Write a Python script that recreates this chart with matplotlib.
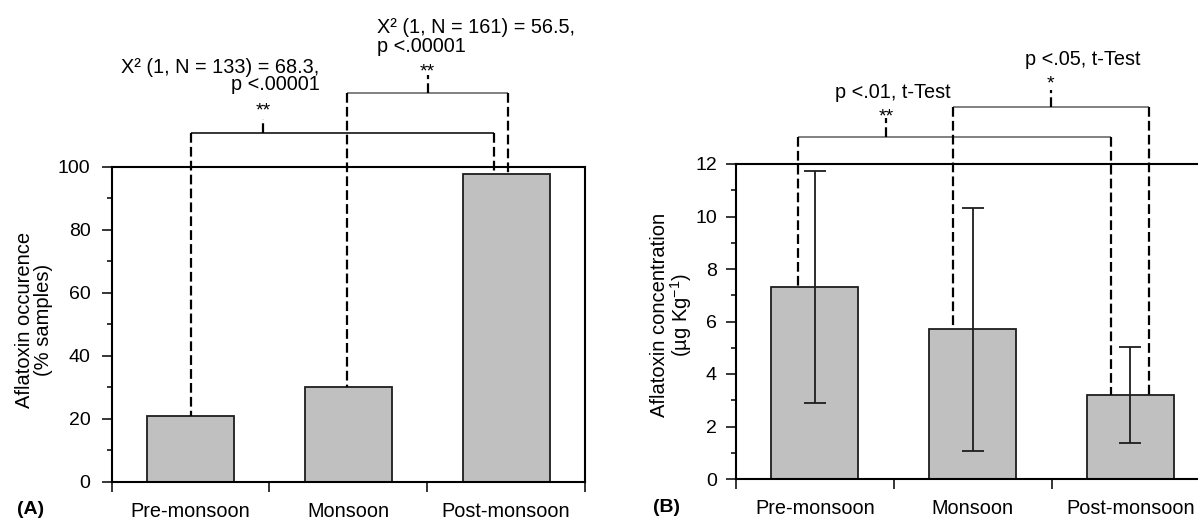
import matplotlib
matplotlib.use('Agg')
import matplotlib.pyplot as plt
import numpy as np

plt.rcParams['font.family'] = ['Liberation Sans', 'DejaVu Sans']
plt.rcParams['mathtext.default'] = 'regular'
plt.rcParams['lines.scale_dashes'] = False

# data
categories = ['Pre-monsoon', 'Monsoon', 'Post-monsoon']
occurrence = [20.9, 30.2, 97.7]          # % samples
concentration = [7.33, 5.70, 3.19]       # ug/kg
conc_sd = [4.42, 4.63, 1.82]

# significance annotations
occ_tests = [
    {'left': 0, 'right': 2, 'text': ['X\u00b2 (1, N = 133) = 68.3,', 'p <.00001'], 'stars': '**'},
    {'left': 1, 'right': 2, 'text': ['X\u00b2 (1, N = 161) = 56.5,', 'p <.00001'], 'stars': '**'},
]
conc_tests = [
    {'left': 0, 'right': 2, 'text': ['p <.01, t-Test'], 'stars': '**'},
    {'left': 1, 'right': 2, 'text': ['p <.05, t-Test'], 'stars': '*'},
]

W, H = 1198, 520
fig = plt.figure(figsize=(W / 100, H / 100), dpi=100, facecolor='white')

BAR_COLOR = '#c0c0c0'
EDGE = '#1e1e1e'
DASH = (0, (7, 3))
x_pos = np.arange(len(categories)) + 0.5


def px_axes(left, right, top, bottom):
    return fig.add_axes([left / W, (H - bottom) / H, (right - left) / W, (bottom - top) / H])


def style_axes(ax, ymax, ymajor, yminor, ylab_pad):
    ax.set_xlim(0, 3)
    ax.set_ylim(0, ymax)
    for s in ax.spines.values():
        s.set_linewidth(1.5)
    ax.set_yticks(np.arange(0, ymax + 0.01, ymajor))
    ax.set_yticks(np.arange(yminor, ymax, ymajor), minor=True)
    ax.set_xticks([0, 1, 2, 3], ['', '', '', ''])
    ax.set_xticks(x_pos, categories, minor=True)
    ax.tick_params(axis='y', which='major', direction='out', length=7.2, width=1.1,
                   labelsize=14, pad=ylab_pad, right=False)
    ax.tick_params(axis='y', which='minor', direction='out', length=3.6, width=1.1, right=False)
    ax.tick_params(axis='x', which='major', direction='out', length=7.2, width=1.1, top=False)
    ax.tick_params(axis='x', which='minor', length=0, labelsize=14.3, pad=14.5, top=False)


def draw_bracket(ax, xl, xr, y, yl_end, yr_end, xt, yt, color, lw):
    kw = dict(clip_on=False, zorder=5)
    ax.plot([xl, xr], [y, y], color=color, lw=lw, solid_capstyle='butt', **kw)
    ax.plot([xl, xl], [y, yl_end], color='black', lw=1.6, ls=DASH, **kw)
    ax.plot([xr, xr], [y, yr_end], color='black', lw=1.6, ls=DASH, **kw)
    ax.plot([xt, xt], [y, yt], color='black', lw=1.6, ls=DASH, **kw)


# ---------------- panel A ----------------
ax_a = px_axes(111.7, 585.0, 166.7, 481.7)
ax_a.bar(x_pos, occurrence, width=0.55, color=BAR_COLOR, edgecolor=EDGE, linewidth=1.3)
style_axes(ax_a, 100, 20, 10, 8)

# bracket layout (x in category units, y in data units)
occ_layout = [
    {'xl': 0.5, 'xr': 2.423, 'y': 110.6, 'xt': 0.961, 'yt': 115.1, 'star_y': 116.2,
     'tx': 1.317, 'ty': [129.9, 124.3], 'ha': 'right', 'color': 'black', 'lw': 1.1},
    {'xl': 1.49, 'xr': 2.514, 'y': 123.5, 'xt': 2.003, 'yt': 129.1, 'star_y': 128.5,
     'tx': 1.68, 'ty': [142.3, 136.5], 'ha': 'left', 'color': '#808080', 'lw': 1.4},
]
for test, lay in zip(occ_tests, occ_layout):
    draw_bracket(ax_a, lay['xl'], lay['xr'], lay['y'],
                 occurrence[test['left']], occurrence[test['right']],
                 lay['xt'], lay['yt'], lay['color'], lay['lw'])
    ax_a.text(lay['xt'], lay['star_y'], test['stars'], ha='center', va='baseline',
              fontsize=14, clip_on=False)
    for line, ty in zip(test['text'], lay['ty']):
        ax_a.text(lay['tx'], ty, line, ha=lay['ha'], va='baseline', fontsize=14.3, clip_on=False)

fig.text(34.5 / W, 1 - 320 / H, 'Aflatoxin occurence\n(% samples)', rotation=90,
         ha='center', va='center', multialignment='center', fontsize=14.5, linespacing=1.0)
fig.text(17 / W, 1 - 510 / H, '(A)', ha='left', va='center', fontsize=14, fontweight='bold')

# ---------------- panel B ----------------
ax_b = px_axes(736.0, 1209.3, 164.0, 479.0)
ax_b.bar(x_pos, concentration, width=0.55, color=BAR_COLOR, edgecolor=EDGE, linewidth=1.3)
ax_b.errorbar(x_pos, concentration, yerr=conc_sd, fmt='none', ecolor=EDGE,
              elinewidth=1.3, capsize=8, capthick=1.3, zorder=4)
style_axes(ax_b, 12, 2, 1, 6.5)

conc_layout = [
    {'xl': 0.395, 'xr': 2.377, 'y': 13.02, 'xt': 0.951, 'yt': 13.75, 'star_y': 13.62,
     'tx': 0.992, 'ty': [14.5], 'ha': 'center', 'color': '#808080', 'lw': 1.4},
    {'xl': 1.377, 'xr': 2.62, 'y': 14.16, 'xt': 1.995, 'yt': 14.82, 'star_y': 14.86,
     'tx': 2.201, 'ty': [15.78], 'ha': 'center', 'color': '#808080', 'lw': 1.4},
]
for test, lay in zip(conc_tests, conc_layout):
    draw_bracket(ax_b, lay['xl'], lay['xr'], lay['y'],
                 concentration[test['left']], concentration[test['right']],
                 lay['xt'], lay['yt'], lay['color'], lay['lw'])
    ax_b.text(lay['xt'], lay['star_y'], test['stars'], ha='center', va='baseline',
              fontsize=14, clip_on=False)
    for line, ty in zip(test['text'], lay['ty']):
        ax_b.text(lay['tx'], ty, line, ha=lay['ha'], va='baseline', fontsize=14.3, clip_on=False)

fig.text(672 / W, 1 - 315 / H, 'Aflatoxin concentration\n(\u00b5g Kg$^{-1}$)', rotation=90,
         ha='center', va='center', multialignment='center', fontsize=14.5, linespacing=0.95)
fig.text(653 / W, 1 - 508 / H, '(B)', ha='left', va='center', fontsize=14, fontweight='bold')

fig.savefig('out.png', dpi=100, facecolor='white')
